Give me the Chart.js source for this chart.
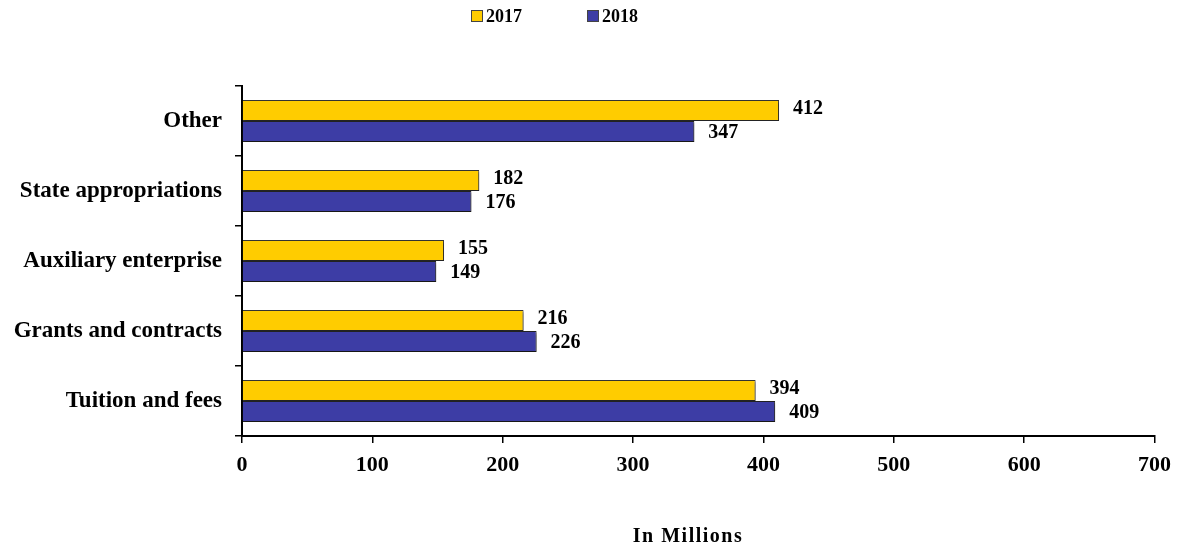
<!DOCTYPE html>
<html>
<head>
<meta charset="utf-8">
<script src="https://cdn.jsdelivr.net/npm/chart.js@4"></script>
<style>
  body { margin: 0; background: #fff; }
  #wrap { position: relative; width: 1180px; height: 550px; }
  #legend { position: absolute; top: 6px; left: 0; width: 1180px; font: bold 18px "Liberation Serif", serif; }
  .item { position: absolute; top: 0; line-height: 20px; }
  .box { display: inline-block; width: 10px; height: 10px; border: 1px solid #444; margin-right: 3px; vertical-align: 0px; }
</style>
</head>
<body>
<div id="wrap">
  <canvas id="barChart" width="1180" height="550"></canvas>
  <div id="legend"></div>
</div>
<script>
const categories = ['Other', 'State appropriations', 'Auxiliary enterprise', 'Grants and contracts', 'Tuition and fees'];
const years = ['2017', '2018'];
const values2017 = [412, 182, 155, 216, 394];
const values2018 = [347, 176, 149, 226, 409];
const xTicks = [0, 100, 200, 300, 400, 500, 600, 700];
const axisTitle = 'In Millions';

const colors = ['#FFCC00', '#3D3DA5'];
const serif = '"Liberation Serif", "Times New Roman", serif';

// legend drawn as html so the wide gap between items is easy to set
const legendPos = [471, 587];
const legend = document.getElementById('legend');
years.forEach(function (y, i) {
  const d = document.createElement('div');
  d.className = 'item';
  d.style.left = legendPos[i] + 'px';
  d.innerHTML = '<span class="box" style="background:' + colors[i] + '"></span>' + y;
  legend.appendChild(d);
});

const barShadow = {
  id: 'barShadow',
  beforeDatasetsDraw(chart) {
    const c = chart.ctx;
    c.save();
    c.shadowColor = 'rgba(0,0,0,0.35)';
    c.shadowOffsetX = 2;
    c.shadowOffsetY = 2;
    c.shadowBlur = 2;
  },
  afterDatasetsDraw(chart) {
    chart.ctx.restore();
  }
};

const valueLabels = {
  id: 'valueLabels',
  afterDatasetsDraw(chart) {
    const c = chart.ctx;
    c.save();
    c.font = 'bold 20px ' + serif;
    c.fillStyle = '#000';
    c.textBaseline = 'middle';
    c.textAlign = 'left';
    chart.data.datasets.forEach(function (ds, i) {
      chart.getDatasetMeta(i).data.forEach(function (bar, j) {
        c.fillText(ds.data[j], bar.x + 14, bar.y + (i === 0 ? -2 : 1));
      });
    });
    // x axis title, a bit left of the plot centre like the original
    c.font = 'bold 20px ' + serif;
    c.letterSpacing = '1.5px';
    c.textAlign = 'center';
    c.fillText(axisTitle, 688, 537);
    c.restore();
  }
};

new Chart(document.getElementById('barChart'), {
  type: 'bar',
  data: {
    labels: categories,
    datasets: [
      {
        label: years[0],
        data: values2017,
        backgroundColor: colors[0],
        borderColor: '#333',
        borderWidth: 1,
        categoryPercentage: 0.6,
        barPercentage: 1.0
      },
      {
        label: years[1],
        data: values2018,
        backgroundColor: colors[1],
        borderColor: '#222',
        borderWidth: 1,
        categoryPercentage: 0.6,
        barPercentage: 1.0
      }
    ]
  },
  options: {
    indexAxis: 'y',
    responsive: false,
    animation: false,
    layout: { padding: { top: 86, right: 24, left: 0, bottom: 0 } },
    plugins: {
      legend: { display: false },
      tooltip: { enabled: false }
    },
    scales: {
      x: {
        min: 0,
        max: 700,
        afterBuildTicks: function (s) { s.ticks = xTicks.map(function (v) { return { value: v }; }); },
        afterFit: function (s) { s.height = 114; },
        border: { color: '#000', width: 2 },
        grid: { drawOnChartArea: false, tickLength: 7, color: '#000', lineWidth: 1.5 },
        ticks: { color: '#000', padding: 9, font: { family: serif, size: 22, weight: 'bold' } }
      },
      y: {
        afterFit: function (s) { s.width = 242; },
        border: { color: '#000', width: 2 },
        grid: { drawOnChartArea: false, tickLength: 7, color: '#000', lineWidth: 1.5 },
        ticks: { color: '#000', padding: 13, font: { family: serif, size: 23, weight: 'bold' } }
      }
    }
  },
  plugins: [barShadow, valueLabels]
});
</script>
</body>
</html>
